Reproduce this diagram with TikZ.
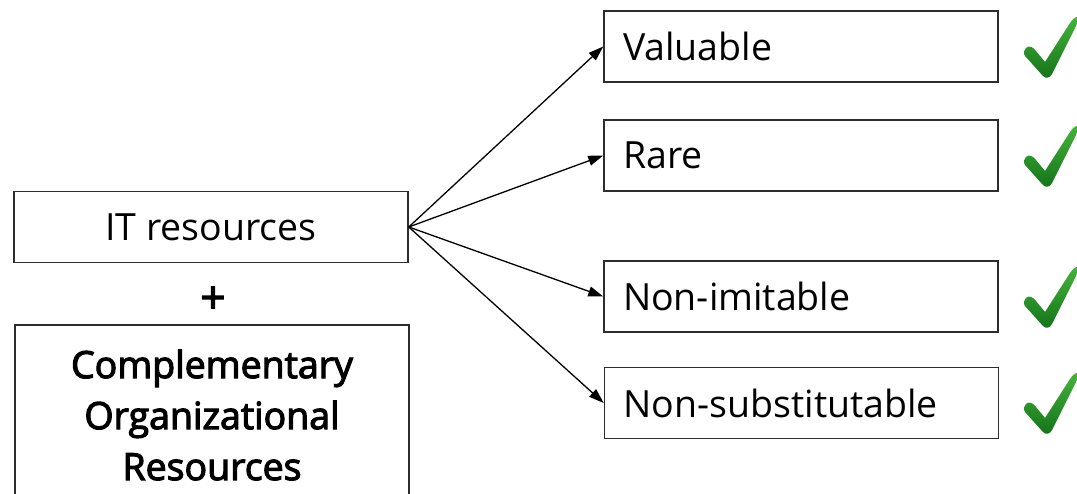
\documentclass[tikz,border=0pt]{standalone}
\usepackage{fontspec}
\setmainfont{Open Sans}
\newfontfamily\compfont[FakeBold=3]{Open Sans}
\usetikzlibrary{arrows.meta}
\definecolor{boxline}{RGB}{45,45,45}
\definecolor{tickhi}{RGB}{70,180,60}
\definecolor{ticklo}{RGB}{20,115,25}
\begin{document}
\begin{tikzpicture}[x=1pt,y=-1pt,
  box/.style={draw=boxline,line width=1.5pt,rectangle,inner sep=0pt,
    minimum width=394pt,minimum height=71pt,font=\fontsize{37.5}{44}\selectfont},
  leftbox/.style={box,text width=356pt,align=left},
  conn/.style={line width=1.3pt,-{Triangle[length=15pt,width=10pt]}},
  tick/.pic={
    \shade[top color=tickhi,bottom color=ticklo]
      (2,1) .. controls (5,-2) and (9,0) .. (12,4)
      -- (21,15) -- (46,-24)
      .. controls (49,-29) and (53,-31) .. (55,-30)
      -- (55,-27) -- (28,27)
      .. controls (26,31) and (22,32) .. (19,29)
      -- (1,9) .. controls (-1,6) and (0,3) .. (2,1) -- cycle;
  }]
\useasboundingbox (0,0) rectangle (1077,494);
\clip (0,0) rectangle (1077,494);
\node[box] (it) at (211,227) {IT resources};
\node[font=\compfont\fontsize{44}{50}\selectfont] (plus) at (213,300) {+};
\node[draw=boxline,line width=1.5pt,rectangle,inner sep=0pt,
  minimum width=394pt,minimum height=180pt,align=center,
  font=\compfont\fontsize{37.5}{51}\selectfont] (comp) at (212,415)
  {Complementary\\Organizational\\Resources};
\node[leftbox] (val) at (801,46.5) {Valuable};
\node[leftbox] (rare) at (801,155.5) {Rare};
\node[leftbox] (nim) at (801,296.5) {Non-imitable};
\node[leftbox] (nsub) at (801.5,403) {Non-substitutable};
\draw[conn] (it.east) -- (val.west);
\draw[conn] (it.east) -- (rare.west);
\draw[conn] (it.east) -- (nim.west);
\draw[conn] (it.east) -- (nsub.west);
\pic at (1024,47) {tick};
\pic at (1024,156) {tick};
\pic at (1024,297) {tick};
\pic at (1024,403) {tick};
\end{tikzpicture}
\end{document}
